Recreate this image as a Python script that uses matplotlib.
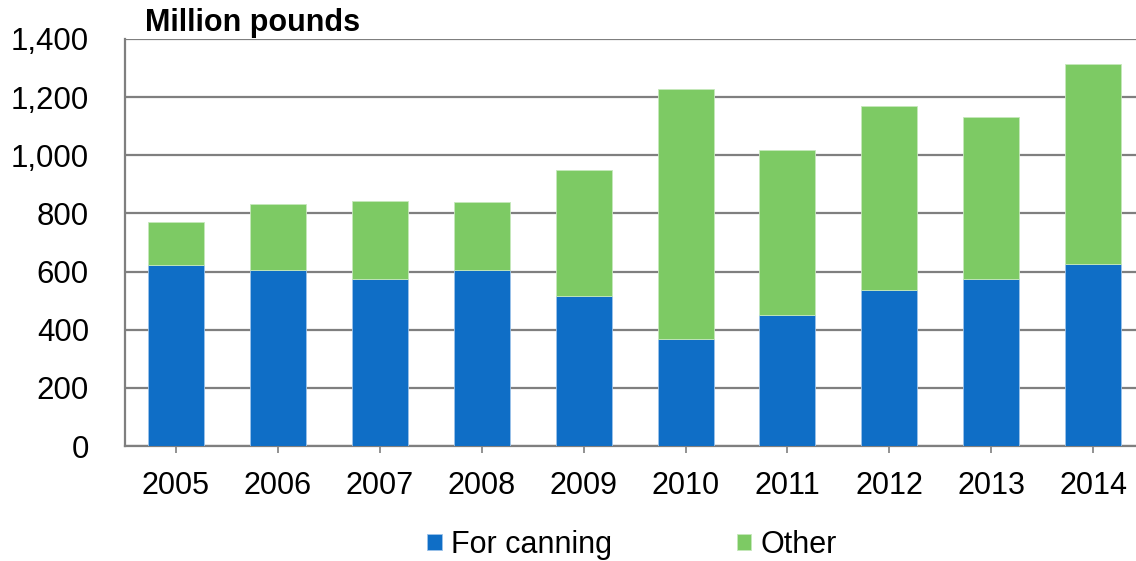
import numpy as np
import matplotlib
matplotlib.use("Agg")
import matplotlib.pyplot as plt

plt.rcParams['font.family'] = ['Liberation Sans', 'DejaVu Sans']

years = ['2005', '2006', '2007', '2008', '2009', '2010', '2011', '2012', '2013', '2014']
canning = [622, 605, 573, 605, 516, 368, 452, 537, 576, 627]
totals = [769, 833, 843, 840, 949, 1228, 1018, 1171, 1133, 1314]
other = [t - c for t, c in zip(totals, canning)]

blue = '#0F6EC6'
green = '#7DCA64'
grid_col = '#7f7f7f'

fig = plt.figure(figsize=(11.36, 5.61), dpi=100)
ax = fig.add_axes([125/1136, 1 - 446/561, 1 - 125/1136, (446 - 39)/561])

x = np.arange(len(years))
ax.bar(x, canning, width=0.55, color=blue, edgecolor='#9cc3ea', linewidth=0.6,
       label='For canning', zorder=3)
ax.bar(x, other, width=0.55, bottom=canning, color=green, edgecolor='#c6e8bb',
       linewidth=0.6, label='Other', zorder=3)

ax.set_xlim(-0.5, 9.42)
ax.set_ylim(0, 1400)
ax.set_yticks(range(0, 1401, 200))
ax.set_yticklabels(['{:,}'.format(v) for v in range(0, 1401, 200)])
ax.set_xticks(x)
ax.set_xticklabels(years)
ax.yaxis.grid(True, color=grid_col, linewidth=1.6, zorder=0)
ax.set_axisbelow(True)

for s in ['top', 'right']:
    ax.spines[s].set_visible(False)
ax.spines['left'].set_color(grid_col)
ax.spines['left'].set_linewidth(1.6)
ax.spines['bottom'].set_color(grid_col)
ax.spines['bottom'].set_linewidth(1.6)

ax.tick_params(axis='y', length=0, pad=26, labelsize=22.5)
ax.tick_params(axis='x', length=5, width=1.2, color=grid_col, pad=13, labelsize=22)

fig.text(145/1136, 1 - 23/561, 'Million pounds', fontsize=22, fontweight='bold',
         ha='left', va='center')

fig.legend(loc='center', bbox_to_anchor=(632/1136, 1 - 545/561), ncol=2,
           frameon=False, fontsize=22, handlelength=0.46, handleheight=0.46,
           handletextpad=0.3, columnspacing=4.1)

fig.savefig('out.png', dpi=100)
